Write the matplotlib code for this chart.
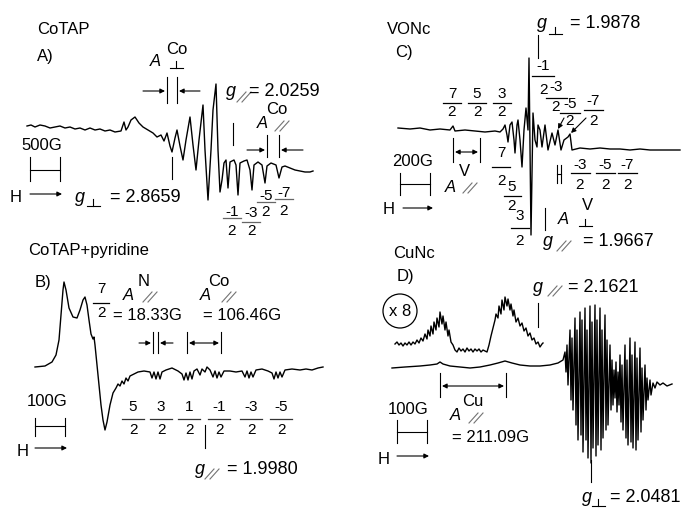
import numpy as np
import matplotlib.pyplot as plt
from matplotlib.patches import Circle

plt.rcParams['font.family'] = ['Liberation Sans', 'DejaVu Sans']

# spectra (x, y in picture pixels, y pointing down)
a_x = [27, 31, 35, 40, 45, 50, 55, 60, 65, 70, 75, 80, 85, 90, 95, 100, 105, 110, 115, 121, 124, 126,
       128, 131, 135, 139, 143, 148, 153, 157, 161, 164, 167, 170, 172, 175, 177, 180, 183, 186, 190,
       193, 196, 199, 203, 205, 208, 211, 213, 216, 218, 220, 222, 224, 226, 228, 230, 234, 236, 238,
       240, 244, 247, 250, 252, 254, 258, 262, 265, 267, 271, 276, 279, 282, 285, 290, 295, 300, 305,
       310, 313]
a_y = [126, 125, 127, 125, 126, 128, 127, 126, 128, 127, 129, 128, 130, 128, 130, 129, 131, 130, 132,
       131, 122, 130, 127, 120, 117, 123, 127, 130, 133, 137, 135, 141, 133, 146, 152, 138, 130, 146,
       160, 140, 117, 145, 170, 140, 105, 150, 200, 150, 110, 84, 150, 192, 180, 163, 160, 188, 162,
       160, 165, 195, 163, 161, 160, 170, 190, 165, 162, 165, 183, 166, 163, 165, 178, 167, 166, 168,
       170, 171, 172, 172, 171]

b_x = [35, 45, 52, 56, 59, 61, 63, 64, 66, 69, 73, 77, 80, 83, 85, 87, 89, 91, 93, 94, 95, 97, 99,
       101, 103, 105, 107, 110, 113, 116, 118, 120, 122, 124, 126, 128, 130, 134, 138, 144, 150, 152,
       154, 156, 158, 160, 162, 166, 172, 178, 182, 184, 186, 188, 190, 192, 194, 197, 200, 202, 205,
       207, 210, 213, 215, 217, 219, 221, 224, 230, 236, 242, 245, 247, 249, 251, 253, 256, 262, 268,
       272, 274, 276, 278, 280, 282, 285, 292, 300, 306, 312, 318, 323]
b_y = [367, 366, 362, 355, 340, 315, 290, 282, 290, 308, 317, 318, 310, 300, 297, 305, 320, 334, 339,
       337, 345, 365, 385, 405, 420, 430, 422, 405, 393, 388, 384, 386, 381, 384, 378, 381, 376, 374,
       372, 371, 372, 378, 372, 379, 372, 379, 372, 370, 368, 371, 374, 380, 373, 380, 372, 379, 371,
       369, 375, 369, 372, 367, 370, 377, 371, 378, 372, 377, 371, 371, 372, 371, 377, 371, 378, 372,
       377, 370, 369, 371, 373, 379, 372, 378, 372, 377, 370, 369, 370, 369, 370, 368, 367]

c_x = [398, 410, 420, 430, 440, 450, 453, 455, 465, 475, 485, 495, 500, 503, 505, 507, 508, 510, 512,
       514, 515, 517, 518, 520, 522, 524, 526, 528, 529, 531, 533, 535, 537, 538, 540, 542, 545, 548,
       552, 555, 558, 561, 564, 568, 570, 572, 580, 590, 600, 610, 620, 630, 640, 650, 660, 670, 680]
c_y = [128, 129, 128, 130, 129, 130, 126, 131, 130, 131, 132, 131, 132, 129, 125, 135, 142, 125, 122,
       140, 153, 125, 120, 140, 167, 130, 108, 130, 58, 235, 113, 140, 147, 125, 130, 147, 125, 150,
       133, 145, 130, 150, 140, 137, 134, 150, 148, 149, 148, 149, 149, 150, 149, 150, 150, 150, 150]

# x8 expanded trace of CuNc
d8_x = [395, 397, 399, 401, 403, 405, 407, 409, 411, 413, 415, 417, 419, 421, 423, 425, 427, 428, 430,
        431, 433, 434, 436, 437, 439, 440, 442, 443, 445, 446, 448, 449, 451, 453, 455, 457, 459, 461,
        463, 465, 467, 469, 471, 473, 475, 477, 479, 481, 483, 485, 487, 489, 491, 493, 495, 496, 498,
        499, 501, 502, 504, 505, 507, 508, 510, 511, 513, 514, 516, 518, 520, 522, 524, 526, 528, 530,
        532, 534, 536, 538, 540, 542, 543]
d8_y = [344, 342, 345, 343, 346, 343, 345, 342, 345, 342, 344, 340, 343, 338, 341, 334, 339, 330, 336,
        326, 334, 322, 330, 318, 327, 312, 324, 316, 330, 322, 336, 330, 342, 345, 350, 352, 348, 351,
        349, 352, 348, 351, 349, 352, 349, 351, 349, 352, 350, 351, 352, 345, 336, 328, 320, 314, 318,
        306, 314, 300, 310, 297, 306, 299, 310, 304, 316, 310, 322, 318, 326, 323, 331, 328, 336, 333,
        340, 338, 344, 342, 347, 344, 343]

# full CuNc trace
d_x = [392, 405, 420, 430, 437, 440, 443, 450, 460, 470, 480, 490, 498, 505, 512, 520, 530, 540, 550,
       558, 563, 565, 566, 567, 568, 570, 571, 572, 573, 575, 576, 577, 578, 580, 581, 582, 583, 585,
       586, 587, 588, 590, 591, 592, 593, 595, 596, 597, 598, 600, 601, 602, 603, 605, 606, 607, 608,
       610, 611, 612, 613, 614, 615, 616, 617, 618, 619, 620, 621, 622, 623, 625, 626, 627, 628, 630,
       631, 632, 633, 635, 636, 637, 638, 640, 641, 642, 643, 645, 646, 647, 648, 650, 651, 653, 655,
       657, 660, 663, 667, 672]
d_y = [368, 367, 366, 365, 364, 362, 364, 366, 367, 368, 367, 365, 363, 361, 363, 365, 366, 366, 365,
       363, 360, 352, 372, 345, 385, 330, 400, 338, 410, 318, 425, 330, 440, 312, 435, 320, 452, 308,
       440, 330, 458, 306, 463, 322, 448, 305, 456, 320, 445, 308, 450, 330, 438, 315, 430, 340, 425,
       345, 410, 360, 405, 370, 398, 362, 412, 372, 405, 355, 422, 365, 430, 345, 438, 360, 445, 338,
       442, 355, 448, 342, 450, 358, 440, 348, 432, 368, 420, 365, 410, 378, 400, 380, 395, 383, 388,
       382, 385, 383, 386, 384]

fig = plt.figure(figsize=(6.96, 5.08), dpi=100)
ax = fig.add_axes([0, 0, 1, 1])
ax.set_xlim(0, 696)
ax.set_ylim(508, 0)
ax.axis('off')

for xs, ys in [(a_x, a_y), (b_x, b_y), (c_x, c_y), (d8_x, d8_y), (d_x, d_y)]:
    ax.plot(xs, ys, color='k', lw=1.0)


def txt(x, y, s, size=12, **kw):
    ax.text(x, y, s, fontsize=size, va='center', **kw)


def vline(x, y0, y1):
    ax.plot([x, x], [y0, y1], color='k', lw=0.8)


def hline(x0, x1, y):
    ax.plot([x0, x1], [y, y], color='k', lw=0.8)


def arrow(x0, y0, x1, y1, style='-|>'):
    ax.annotate('', xy=(x1, y1), xytext=(x0, y0),
                arrowprops=dict(arrowstyle=style, lw=0.8, color='k', mutation_scale=7,
                                shrinkA=0, shrinkB=0))


def par(x, y):
    # the "parallel" sign: two thin slashes
    for dx in (0, 5):
        ax.plot([x + dx, x + dx + 9], [y + 5, y - 5], color='0.45', lw=0.8)


def perp(x, y, w=13):
    ax.plot([x - w / 2, x + w / 2], [y, y], color='k', lw=0.8)
    ax.plot([x, x], [y, y - 7], color='k', lw=0.8)


def frac(x, yn, yb, yd, num, den='2', w=20, barc='0.4'):
    ax.text(x, yn, num, fontsize=11, ha='center', va='center')
    ax.plot([x - w / 2, x + w / 2], [yb, yb], color=barc, lw=0.9)
    ax.text(x, yd, den, fontsize=11, ha='center', va='center')


# ---- A) CoTAP
txt(37, 30, 'CoTAP')
txt(37, 56, 'A)')
txt(150, 61, 'A', style='italic')
txt(166, 50, 'Co')
perp(176, 68)
vline(167, 77, 103)
vline(177, 77, 103)
arrow(143, 91, 165, 91)
arrow(200, 91, 179, 91)
txt(226, 92, 'g', 13, style='italic')
par(237, 97)
txt(249, 92, '= 2.0259', 13)
txt(257, 123, 'A', style='italic')
txt(266, 110, 'Co')
par(275, 126)
vline(267, 135, 157)
vline(279, 135, 157)
arrow(247, 150, 265, 150)
arrow(303, 150, 281, 150)
vline(233, 123, 145)
vline(172, 157, 179)
txt(21, 146, '500G')
vline(30, 157, 181)
vline(60, 157, 181)
hline(30, 60, 170)
txt(10, 197, 'H')
arrow(30, 194, 62, 194)
txt(75, 197, 'g', 13, style='italic')
perp(93, 206)
txt(110, 197, '= 2.8659', 13)
frac(232, 212, 218, 231, '-1', w=18)
frac(251, 213, 222, 231, '-3', w=18)
frac(266, 196, 202, 212, '-5', w=18)
frac(284, 193, 199, 211, '-7', w=18)

# ---- B) CoTAP+pyridine
txt(28, 250, 'CoTAP+pyridine')
txt(35, 282, 'B)')
frac(101, 289, 303, 313, '7', w=16, barc='k')
txt(123, 296, 'A', style='italic')
txt(138, 282, 'N')
par(143, 297)
txt(113, 315, '= 18.33G')
txt(200, 296, 'A', style='italic')
txt(208, 281, 'Co')
par(222, 297)
txt(203, 315, '= 106.46G')
vline(153, 332, 353)
vline(158, 332, 353)
arrow(139, 343, 151, 343)
arrow(173, 343, 160, 343)
vline(187, 332, 353)
vline(221, 332, 353)
arrow(189, 343, 219, 343, style='<|-|>')
for xc, num in zip([133, 161, 189, 219, 251, 281], ['5', '3', '1', '-1', '-3', '-5']):
    frac(xc, 407, 419, 430, num, w=22, barc='0.2')
vline(205, 425, 448)
txt(195, 470, 'g', 13, style='italic')
par(205, 474)
txt(227, 469, '= 1.9980', 13)
txt(27, 401, '100G')
vline(35, 418, 436)
vline(65, 418, 436)
hline(35, 65, 426)
txt(17, 451, 'H')
arrow(35, 448, 67, 448)

# ---- C) VONc
txt(387, 30, 'VONc')
txt(395, 52, 'C)')
txt(537, 24, 'g', 13, style='italic')
perp(555, 34)
txt(570, 24, '= 1.9878', 13)
vline(538, 35, 58)
frac(543, 66, 76, 90, '-1', w=22, barc='k')
frac(556, 87, 98, 107, '-3', w=21, barc='k')
frac(570, 104, 113, 121, '-5', w=20, barc='k')
frac(593, 101, 110, 121, '-7', w=19, barc='k')
arrow(564, 118, 558, 129)
arrow(586, 118, 571, 133)
for xc, num in zip([452, 477, 502], ['7', '5', '3']):
    frac(xc, 94, 103, 112, num, w=18, barc='k')
vline(453, 138, 162)
vline(480, 138, 162)
arrow(455, 152, 478, 152, style='<|-|>')
txt(464, 172, 'V', ha='center')
txt(450, 187, 'A', ha='center', style='italic')
par(463, 188)
txt(392, 162, '200G')
vline(400, 173, 195)
vline(430, 173, 195)
hline(400, 430, 184)
txt(383, 210, 'H')
arrow(403, 208, 433, 208)
frac(501, 153, 167, 181, '7', w=18, barc='k')
frac(512, 187, 196, 206, '5', w=17, barc='k')
frac(520, 216, 228, 241, '3', w=18, barc='k')
vline(557, 165, 183)
vline(561, 165, 183)
hline(557, 561, 174)
for xc, num in zip([580, 605, 627], ['-3', '-5', '-7']):
    frac(xc, 165, 173, 185, num, w=19, barc='k')
vline(545, 208, 230)
txt(563, 219, 'A', ha='center', style='italic')
txt(587, 206, 'V', ha='center')
perp(585, 226)
txt(543, 242, 'g', 13, style='italic')
par(557, 246)
txt(583, 242, '= 1.9667', 13)

# ---- D) CuNc
txt(393, 254, 'CuNc')
txt(397, 277, 'D)')
ax.add_patch(Circle((400, 311), 17, fill=False, lw=0.9, color='k'))
txt(400, 311, 'x 8', ha='center')
txt(533, 287, 'g', 13, style='italic')
par(548, 291)
txt(568, 287, '= 2.1621', 13)
vline(538, 303, 327)
vline(440, 373, 397)
vline(506, 373, 397)
arrow(442, 386, 504, 386, style='<|-|>')
txt(462, 401, 'Cu')
txt(450, 416, 'A', style='italic')
par(469, 418)
txt(452, 438, '= 211.09G')
txt(388, 409, '100G')
vline(397, 420, 443)
vline(427, 420, 443)
hline(397, 427, 432)
txt(378, 459, 'H')
arrow(397, 456, 429, 456)
vline(591, 460, 482)
txt(582, 498, 'g', 13, style='italic')
perp(598, 506)
txt(610, 497, '= 2.0481', 13)

fig.savefig('out.png', dpi=100)
